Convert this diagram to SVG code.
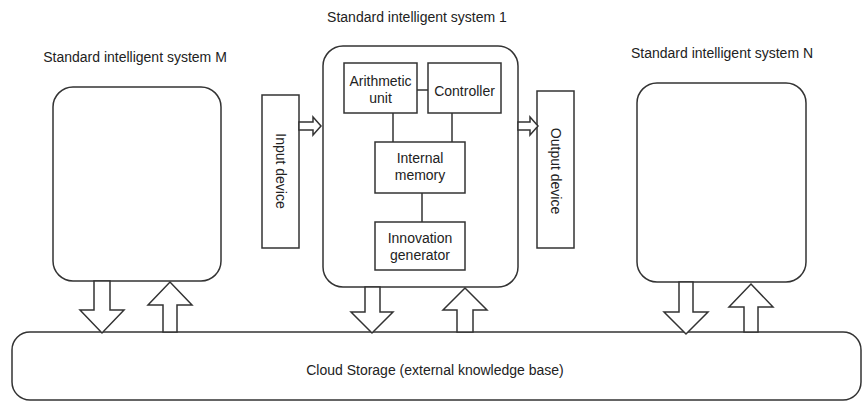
<svg xmlns="http://www.w3.org/2000/svg" width="864" height="403" viewBox="0 0 864 403">
<style>
.b{fill:#fff;stroke:#333;stroke-width:1.5}
.a{fill:#fff;stroke:#333;stroke-width:1.5;stroke-linejoin:miter}
.l{stroke:#333;stroke-width:1.5;fill:none}
text{font-family:"Liberation Sans",Arial,sans-serif;font-size:14px;fill:#222;text-anchor:middle}
.s{font-size:13px}
</style>
<rect width="864" height="403" fill="#fff"/>
<g id="cloud">
<rect class="b" x="12" y="332" width="849" height="68" rx="18"/>
<text x="435" y="375">Cloud Storage (external knowledge base)</text>
</g>
<g id="systemM">
<rect class="b" x="53" y="87" width="168" height="194" rx="20"/>
<text x="135" y="62">Standard intelligent system M</text>
</g>
<g id="systemN">
<rect class="b" x="637" y="83" width="169" height="199" rx="20"/>
<text x="722" y="58">Standard intelligent system N</text>
</g>
<g id="system1">
<rect class="b" x="323" y="46" width="195" height="241" rx="20"/>
<text x="417" y="22">Standard intelligent system 1</text>
</g>
<g id="input">
<rect class="b" x="262" y="95" width="37" height="153"/>
<text transform="translate(275.5 171) rotate(90)">Input device</text>
</g>
<g id="output">
<rect class="b" x="537" y="91" width="37" height="157"/>
<text transform="translate(551 171) rotate(90)">Output device</text>
</g>
<g id="arith">
<rect class="b" x="344" y="63" width="73" height="50"/>
<text x="380.5" y="86">Arithmetic</text>
<text x="380.5" y="103">unit</text>
</g>
<g id="controller">
<rect class="b" x="428" y="63" width="73" height="50"/>
<text x="464.5" y="96">Controller</text>
</g>
<g id="memory">
<rect class="b" x="375" y="142" width="90" height="51"/>
<text x="420" y="163">Internal</text>
<text x="420" y="180">memory</text>
</g>
<g id="innovation">
<rect class="b" x="375" y="222" width="90" height="48"/>
<text x="420" y="243">Innovation</text>
<text x="420" y="260">generator</text>
</g>
<g id="connectors">
<line class="l" x1="417" y1="90" x2="428" y2="90"/>
<line class="l" x1="393" y1="113" x2="393" y2="142"/>
<line class="l" x1="452" y1="113" x2="452" y2="142"/>
<line class="l" x1="422" y1="193" x2="422" y2="222"/>
<polygon class="a" points="299,122 313,122 313,117 321,126 313,135 313,130 299,130"/>
<polygon class="a" points="518,122 530,122 530,117 538,126 530,135 530,130 518,130"/>
<polygon class="a" points="94,281 110,281 110,310 124,310 102,333 80,310 94,310"/>
<polygon class="a" points="163,332 177,332 177,305 192,305 170,282 148,305 163,305"/>
<polygon class="a" points="365,287 380,287 380,312 393,312 372,333 351,312 365,312"/>
<polygon class="a" points="457,332 473,332 473,310 487,310 465,288 443,310 457,310"/>
<polygon class="a" points="679,282 693,282 693,312 708,312 686,334 664,312 679,312"/>
<polygon class="a" points="744,332 758,332 758,307 773,307 751,284 729,307 744,307"/>
</g>
</svg>
